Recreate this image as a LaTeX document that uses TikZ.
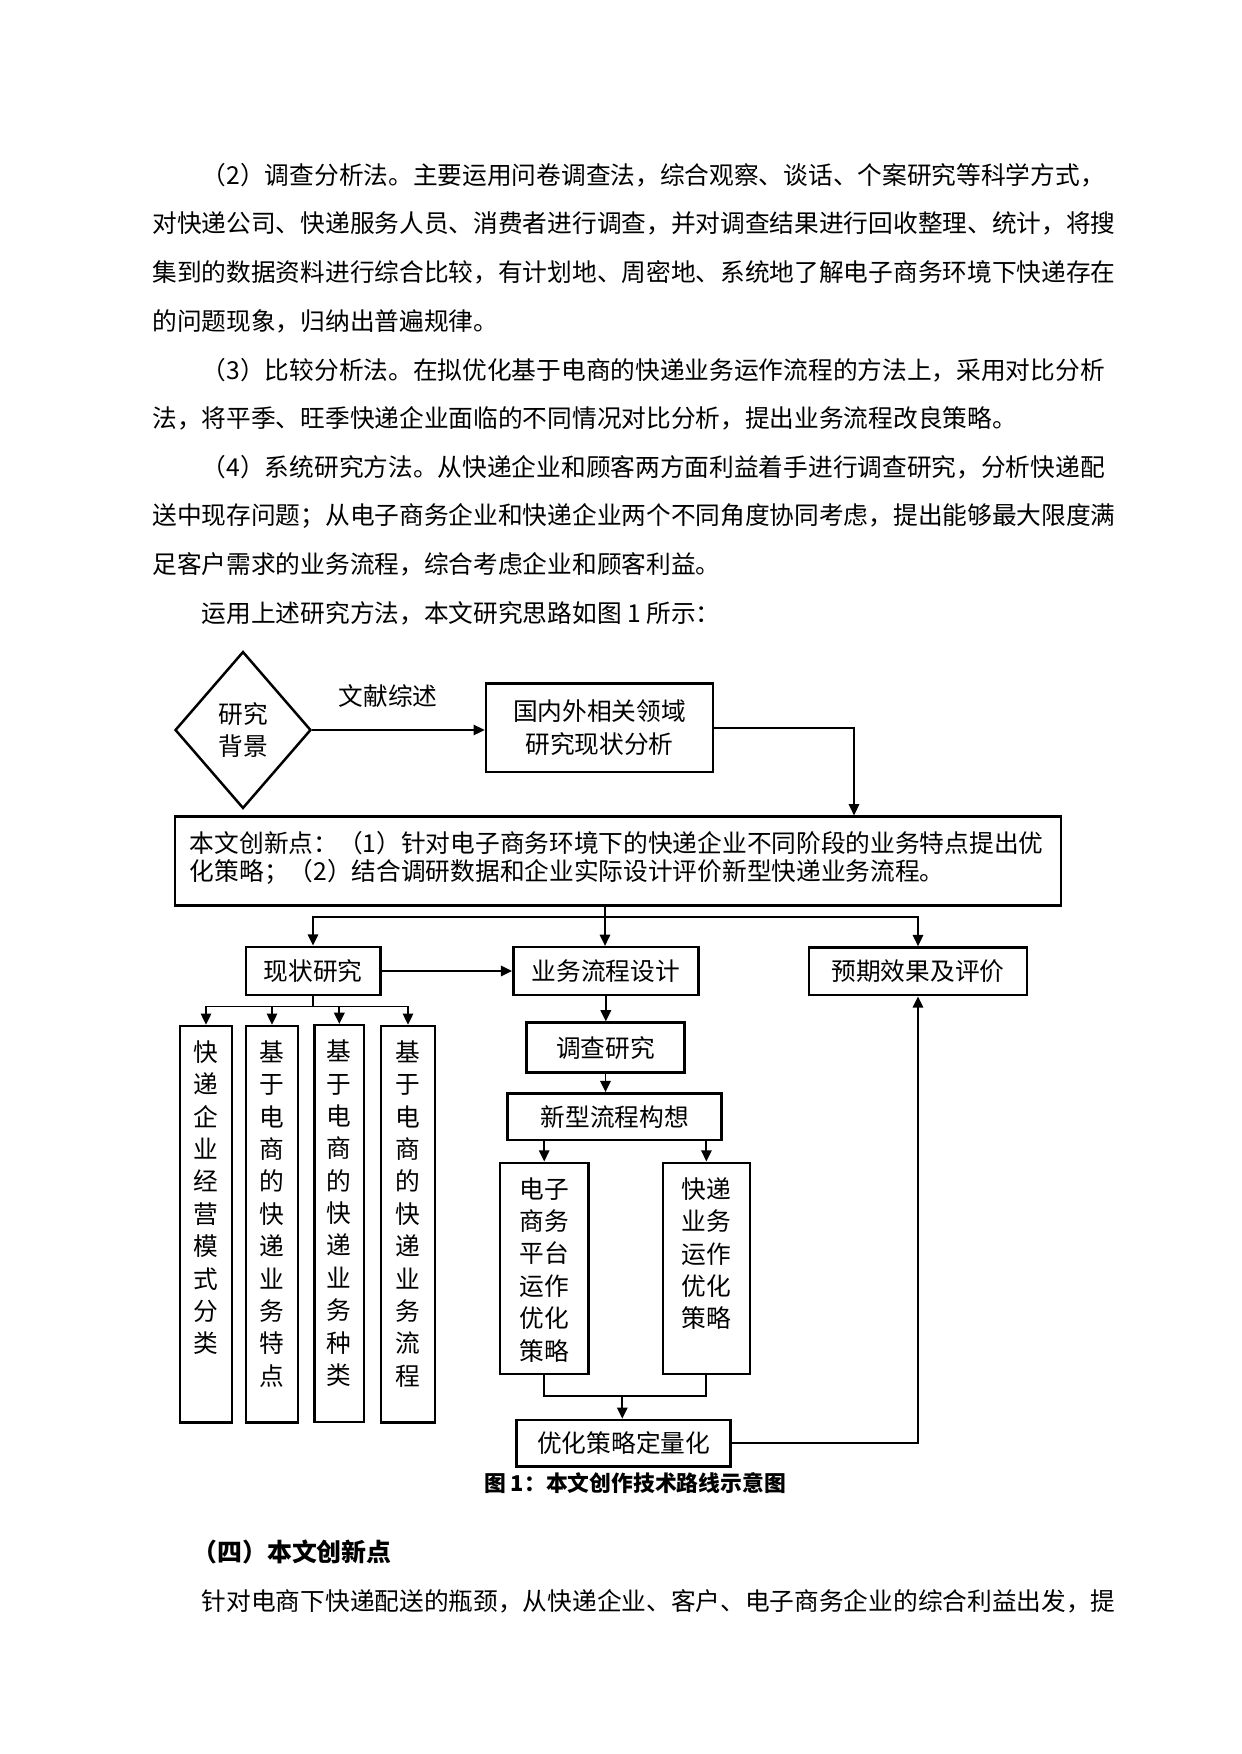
\documentclass[tikz,border=0pt]{standalone}
\usepackage{fontspec}
\setmainfont{Noto Sans CJK SC}
\usetikzlibrary{arrows.meta,shapes.geometric}
\XeTeXlinebreaklocale "zh"
\XeTeXlinebreakskip=0pt plus 1pt

\begin{document}
\begin{tikzpicture}[x=0.4818pt, y=-0.4818pt, >={Triangle[length=5.4pt,width=5pt]},
  every node/.style={font=\fontsize{11.9}{15.6}\selectfont, inner sep=0pt},
  box/.style={draw,line width=1.2pt,align=center},
  line/.style={->,line width=0.9pt},
  para/.style={anchor=west},
  vtext/.style={anchor=north,text width=12pt,align=center,yshift=-7.5pt}]
\useasboundingbox (0,0) rectangle (1241,1754);
% body text above the figure
\node[para] (l1) at (201.4,175) {（2）调查分析法。主要运用问卷调查法，综合观察、谈话、个案研究等科学方式，};
\node[para] (l2) at (152,223.7) {对快递公司、快递服务人员、消费者进行调查，并对调查结果进行回收整理、统计，将搜};
\node[para] (l3) at (152,272.4) {集到的数据资料进行综合比较，有计划地、周密地、系统地了解电子商务环境下快递存在};
\node[para] (l4) at (152,321.1) {的问题现象，归纳出普遍规律。};
\node[para] (l5) at (201.4,369.8) {（3）比较分析法。在拟优化基于电商的快递业务运作流程的方法上，采用对比分析};
\node[para] (l6) at (152,418.5) {法，将平季、旺季快递企业面临的不同情况对比分析，提出业务流程改良策略。};
\node[para] (l7) at (201.4,467.2) {（4）系统研究方法。从快递企业和顾客两方面利益着手进行调查研究，分析快递配};
\node[para] (l8) at (152,515.9) {送中现存问题；从电子商务企业和快递企业两个不同角度协同考虑，提出能够最大限度满};
\node[para] (l9) at (152,564.6) {足客户需求的业务流程，综合考虑企业和顾客利益。};
\node[para] (l10) at (201.4,613.3) {运用上述研究方法，本文研究思路如图 1 所示：};
% figure
\node[box,diamond,minimum width=65.5pt,minimum height=75.6pt] (bg) at (243,730) {研究\\背景};
\node (wx) at (388,696) {文献综述};
\node[box,minimum width=109.4pt,minimum height=42.7pt,font=\fontsize{11.9}{16}\selectfont] (lit) at (599.5,727.7) {国内外相关领域\\研究现状分析};
\node[box,minimum width=427pt,minimum height=42.9pt] (innov) at (618,861.2) {};
\node[anchor=west,align=left,text width=413pt,font=\fontsize{11.9}{13.2}\selectfont] (innovt) at (189.5,858)
  {本文创新点：（1）针对电子商务环境下的快递企业不同阶段的业务特点提出优\\化策略；（2）结合调研数据和企业实际设计评价新型快递业务流程。};
\node[box,minimum width=64.8pt,minimum height=23.3pt] (xz) at (313,971) {现状研究};
\node[box,minimum width=89.1pt,minimum height=23pt] (yw) at (605.8,971) {业务流程设计};
\node[box,minimum width=104.9pt,minimum height=23pt] (yq) at (918,971.3) {预期效果及评价};
\node[box,minimum width=25pt,minimum height=191.1pt] (v1) at (206,1224.3) {};
\node[box,minimum width=25pt,minimum height=191.1pt] (v2) at (272,1224.3) {};
\node[box,minimum width=24pt,minimum height=191.1pt] (v3) at (339.3,1223.5) {};
\node[box,minimum width=26pt,minimum height=191.1pt] (v4) at (408,1224.3) {};
\node[vtext] (v1t) at (v1.north) {快递企业经营模式分类};
\node[vtext] (v2t) at (v2.north) {基于电商的快递业务特点};
\node[vtext] (v3t) at (v3.north) {基于电商的快递业务种类};
\node[vtext] (v4t) at (v4.north) {基于电商的快递业务流程};
\node[box,minimum width=75.9pt,minimum height=24.1pt] (dc) at (605.5,1047.7) {调查研究};
\node[box,minimum width=103.1pt,minimum height=22.5pt] (xx) at (614.7,1116.7) {新型流程构想};
\node[box,minimum width=42.5pt,minimum height=101.8pt] (ds) at (544.2,1268.4) {};
\node[box,minimum width=42pt,minimum height=101.8pt] (kd) at (706.4,1268.4) {};
\node[vtext,text width=24pt] (dst) at (ds.north) {电子商务平台运作优化策略};
\node[vtext,text width=24pt] (kdt) at (kd.north) {快递业务运作优化策略};
\node[box,minimum width=103.1pt,minimum height=22.5pt] (lh) at (623.7,1443.3) {优化策略定量化};
\node[font=\fontsize{10.5}{12}\selectfont\bfseries] (cap) at (635,1483.3) {图 1：本文创作技术路线示意图};
\coordinate (c1) at (854,729);
\coordinate (j0) at (605,916.7);
\coordinate (j2) at (622.3,1395.7);
\draw[line] (bg.east) -- (bg.east -| lit.west);
\draw[line] (lit.east) -| (c1 |- innov.north);
\draw[line width=0.9pt] (innov.south -| j0) -- (j0);
\draw[line] (j0) -| (xz.north);
\draw[line] (j0) -| (yq.north);
\draw[line] (j0) -- (j0 |- yw.north);
\draw[line] (xz.east) -- (yw.west);
\draw[line width=0.9pt] (xz.south) -- ++(0,10) coordinate (j1);
\draw[line] (j1) -| (v1.north);
\draw[line] (j1) -| (v2.north);
\draw[line] (j1) -| (v3.north);
\draw[line] (j1) -| (v4.north);
\draw[line] (yw.south) -- (yw.south |- dc.north);
\draw[line] (dc.south) -- (dc.south |- xx.north);
\draw[line] (xx.south -| ds) -- (ds.north);
\draw[line] (xx.south -| kd) -- (kd.north);
\draw[line width=0.9pt] (ds.south) |- (j2) -| (kd.south);
\draw[line] (j2) -- (j2 |- lh.north);
\draw[line] (lh.east) -| (yq.south);
% heading and text below the figure
\node[para,font=\fontsize{12}{14}\selectfont\bfseries] (h4) at (192,1552) {（四）本文创新点};
\node[para] (l11) at (201.4,1601) {针对电商下快递配送的瓶颈，从快递企业、客户、电子商务企业的综合利益出发，提};
\end{tikzpicture}
\end{document}
